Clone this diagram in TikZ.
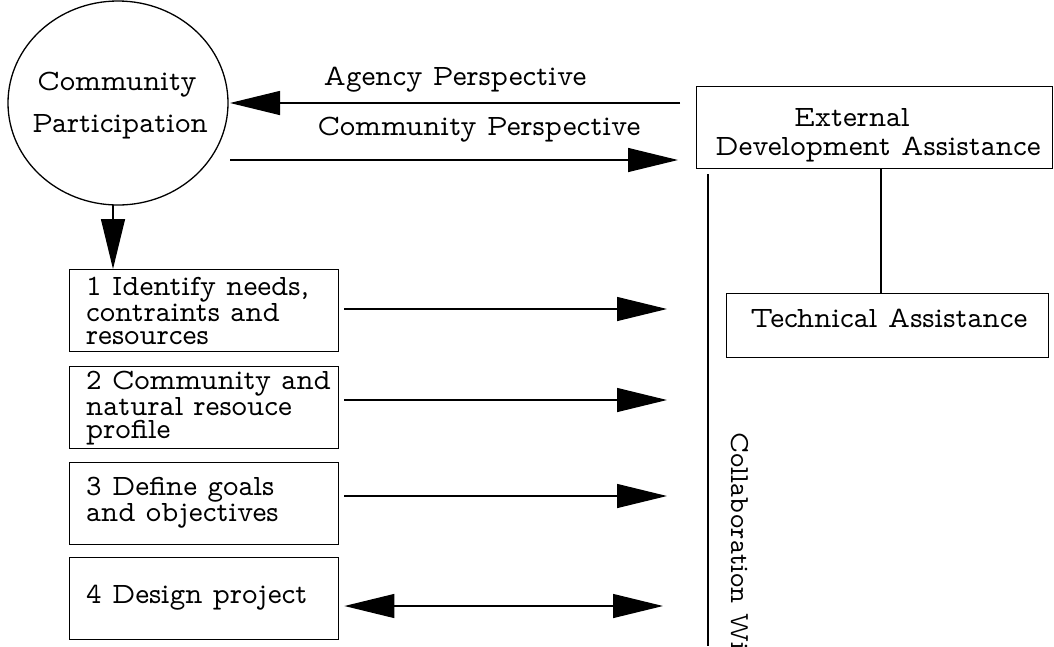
\documentclass[tikz,border=0pt]{standalone}
\usetikzlibrary{arrows.meta,shapes.geometric}
\newcommand{\dfont}{\fontfamily{lmvtt}\selectfont\fontsize{29.5}{23}\selectfont}
\tikzset{
  txt/.style={font=\dfont, inner sep=0pt, anchor=base},
  stepbox/.style={draw, line width=1.4pt, minimum width=269pt, minimum height=82pt,
     anchor=north west, inner sep=0pt},
  boxtxt/.style={font=\dfont, inner sep=0pt, align=left, anchor=west},
  bigtip/.tip={Triangle[length=50pt,width=24pt]},
  conn/.style={line width=1.3pt},
}
\begin{document}
\begin{tikzpicture}[x=1pt,y=-1pt]
\path[use as bounding box] (0,0) rectangle (1054,646);
% circle
\node[ellipse, draw, line width=1.3pt, minimum width=220pt, minimum height=204pt, inner sep=0pt] (cp) at (118,103) {};
\node[txt] (cpt1) at (117,90) {Community};
\node[txt] (cpt2) at (120,132) {Participation};
% external box
\node[draw, line width=1.4pt, minimum width=356pt, minimum height=82pt, anchor=north west, inner sep=0pt] (eda) at (696,86) {};
\node[txt] (edat1) at (852,126) {External};
\node[txt] (edat2) at (878,155) {Development Assistance};
% technical assistance
\node[draw, line width=1.4pt, minimum width=322pt, minimum height=64pt, anchor=north west, inner sep=0pt] (ta) at (726,293) {};
\node[txt] (tat) at (889,327) {Technical Assistance};
\draw[conn] (eda.south -| 881,0) -- (ta.north -| 881,0);
% perspective arrows
\coordinate (aS) at (680,103);
\coordinate (aE) at (230,103);
\coordinate (cS) at (230,160);
\coordinate (cE) at (678,160);
\draw[conn,-bigtip] (aS) -- (aE);
\draw[conn,-bigtip] (cS) -- (cE);
\node[txt] (agt) at (455,85) {Agency Perspective};
\node[txt] (cmt) at (479,135) {Community Perspective};
% left boxes
\node[stepbox] (b1) at (69,269) {};
\node[stepbox] (b2) at (69,366) {};
\node[stepbox] (b3) at (69,462) {};
\node[stepbox] (b4) at (69,557) {};
\node[boxtxt] (b1t) at (86,311) {1 Identify needs,\\contraints and\\resources};
\node[boxtxt] (b2t) at (86,408) {2 Community and\\natural resouce\\profile};
\node[boxtxt, font=\fontfamily{lmvtt}\selectfont\fontsize{29.5}{19}\selectfont] (b3t) at (86,503) {3 Define goals\\and objectives};
\node[boxtxt] (b4t) at (86,598) {4 Design project};
% down arrow
\coordinate (dS) at (113,205);
\draw[conn,-bigtip] (dS) -- (b1.north -| dS);
% box arrows
\coordinate (e1) at (667,309);
\coordinate (e2) at (667,400);
\coordinate (e3) at (667,496);
\coordinate (e4) at (663,606);
\draw[conn,-bigtip] (b1.east |- e1) ++(5,0) -- (e1);
\draw[conn,-bigtip] (b2.east |- e2) ++(5,0) -- (e2);
\draw[conn,-bigtip] (b3.east |- e3) ++(5,0) -- (e3);
\draw[conn,bigtip-bigtip] (b4.east |- e4) ++(5,0) -- (e4);
% collaboration line
\coordinate (vB) at (708,646);
\draw[conn] (eda.south -| vB) ++(0,5) -- (vB);
\begin{scope}
\clip (0,0) rectangle (1054,646);
\node[font=\fontfamily{lmvtt}\selectfont\fontsize{27.5}{23}\selectfont, rotate=-90, anchor=north west, inner sep=0pt] (col) at (749,432) {Collaboration Wi};
\end{scope}
\end{tikzpicture}
\end{document}
